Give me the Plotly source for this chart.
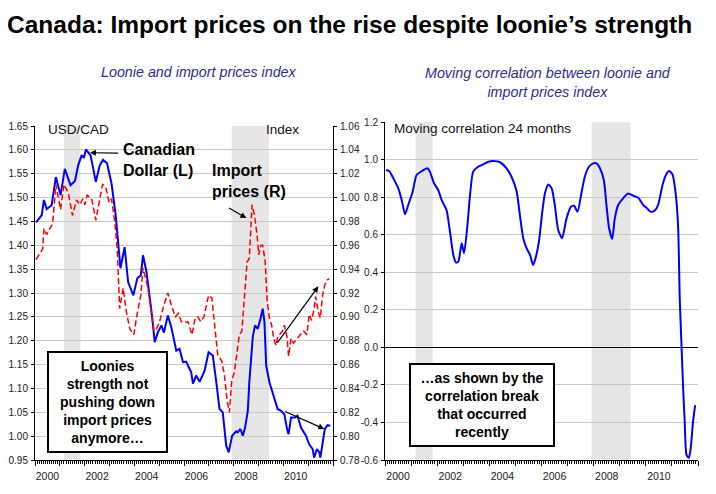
import plotly.graph_objects as go

# ---------------- data ----------------
cad_t = [2000.04, 2000.27, 2000.36, 2000.47, 2000.67, 2000.84, 2001.03, 2001.20, 2001.43, 2001.61,
         2001.74, 2001.88, 2001.97, 2002.05, 2002.24, 2002.45, 2002.61, 2002.74, 2002.90, 2003.08,
         2003.25, 2003.35, 2003.44, 2003.61, 2003.75, 2003.96, 2004.12, 2004.26, 2004.35, 2004.49,
         2004.62, 2004.71, 2004.82, 2004.95, 2005.09, 2005.19, 2005.35, 2005.49, 2005.69, 2005.82,
         2005.96, 2006.09, 2006.16, 2006.29, 2006.36, 2006.49, 2006.63, 2006.83, 2006.99, 2007.16,
         2007.30, 2007.43, 2007.56, 2007.70, 2007.80, 2007.94, 2008.10, 2008.16, 2008.27, 2008.37,
         2008.46, 2008.57, 2008.63, 2008.77, 2008.86, 2008.97, 2009.08, 2009.17, 2009.24, 2009.31,
         2009.44, 2009.57, 2009.64, 2009.77, 2009.91, 2010.04, 2010.15, 2010.21, 2010.31, 2010.47,
         2010.57, 2010.71, 2010.91, 2011.04, 2011.18, 2011.24, 2011.35, 2011.45, 2011.49, 2011.58,
         2011.67, 2011.78, 2011.89]
cad_v = [1.448, 1.463, 1.495, 1.476, 1.484, 1.543, 1.505, 1.560, 1.526, 1.535,
         1.568, 1.589, 1.583, 1.601, 1.588, 1.533, 1.568, 1.579, 1.572, 1.530,
         1.463, 1.394, 1.352, 1.396, 1.323, 1.295, 1.331, 1.337, 1.379, 1.344,
         1.295, 1.253, 1.197, 1.218, 1.232, 1.217, 1.253, 1.228, 1.179, 1.183,
         1.155, 1.156, 1.148, 1.134, 1.110, 1.127, 1.114, 1.137, 1.176, 1.169,
         1.113, 1.057, 1.050, 0.980, 0.966, 1.001, 1.010, 1.008, 1.015, 1.001,
         1.018, 1.053, 1.113, 1.208, 1.232, 1.225, 1.246, 1.267, 1.239, 1.148,
         1.113, 1.092, 1.078, 1.057, 1.053, 1.046, 1.015, 1.004, 1.039, 1.039,
         1.043, 1.018, 1.001, 0.983, 0.973, 0.955, 0.973, 0.966, 0.955, 0.987,
         1.015, 1.023, 1.022]

imp_t = [2000.04, 2000.17, 2000.31, 2000.36, 2000.47, 2000.57, 2000.71, 2000.84, 2001.03, 2001.16,
         2001.34, 2001.51, 2001.67, 2001.81, 2001.92, 2002.01, 2002.10, 2002.28, 2002.45, 2002.61,
         2002.72, 2002.85, 2002.98, 2003.08, 2003.21, 2003.31, 2003.41, 2003.55, 2003.68, 2003.82,
         2003.98, 2004.11, 2004.26, 2004.35, 2004.45, 2004.55, 2004.66, 2004.79, 2004.89, 2005.02,
         2005.15, 2005.25, 2005.35, 2005.49, 2005.65, 2005.78, 2005.89, 2006.02, 2006.16, 2006.32,
         2006.45, 2006.56, 2006.67, 2006.80, 2006.99, 2007.12, 2007.23, 2007.36, 2007.52, 2007.63,
         2007.74, 2007.83, 2007.92, 2008.03, 2008.16, 2008.23, 2008.33, 2008.43, 2008.54, 2008.63,
         2008.74, 2008.84, 2008.94, 2009.01, 2009.10, 2009.17, 2009.27, 2009.35, 2009.44, 2009.53,
         2009.61, 2009.71, 2009.77, 2009.88, 2009.97, 2010.04, 2010.15, 2010.21, 2010.31, 2010.41,
         2010.55, 2010.68, 2010.82, 2010.95, 2011.04, 2011.14, 2011.24, 2011.30, 2011.41, 2011.49,
         2011.58, 2011.67, 2011.78, 2011.85]
imp_v = [0.948, 0.952, 0.957, 0.974, 0.969, 0.973, 0.978, 1.011, 0.990, 1.011,
         1.004, 0.985, 0.998, 0.994, 0.999, 0.994, 1.002, 0.999, 0.981, 0.999,
         1.011, 1.009, 0.996, 0.999, 0.980, 0.957, 0.907, 0.924, 0.904, 0.890,
         0.885, 0.902, 0.918, 0.941, 0.932, 0.924, 0.907, 0.888, 0.890, 0.896,
         0.907, 0.913, 0.920, 0.910, 0.900, 0.903, 0.896, 0.895, 0.896, 0.885,
         0.899, 0.900, 0.896, 0.900, 0.918, 0.916, 0.896, 0.868, 0.863, 0.851,
         0.829, 0.820, 0.846, 0.854, 0.874, 0.885, 0.888, 0.913, 0.946, 0.949,
         0.994, 0.985, 0.969, 0.952, 0.960, 0.960, 0.946, 0.913, 0.899, 0.893,
         0.882, 0.876, 0.883, 0.886, 0.888, 0.893, 0.883, 0.867, 0.882, 0.878,
         0.882, 0.885, 0.888, 0.885, 0.902, 0.897, 0.907, 0.917, 0.904, 0.899,
         0.918, 0.927, 0.931, 0.932]

corr_t = [2000.04, 2000.16, 2000.32, 2000.51, 2000.64, 2000.77, 2000.89, 2001.06, 2001.21, 2001.41,
          2001.62, 2001.72, 2001.88, 2002.04, 2002.17, 2002.36, 2002.49, 2002.62, 2002.72, 2002.81,
          2002.94, 2003.03, 2003.15, 2003.26, 2003.38, 2003.57, 2003.77, 2003.96, 2004.15, 2004.41,
          2004.66, 2004.85, 2005.05, 2005.17, 2005.30, 2005.43, 2005.56, 2005.68, 2005.77, 2005.90,
          2006.03, 2006.13, 2006.26, 2006.39, 2006.51, 2006.64, 2006.79, 2006.96, 2007.13, 2007.25,
          2007.38, 2007.54, 2007.66, 2007.82, 2007.98, 2008.11, 2008.24, 2008.39, 2008.49, 2008.59,
          2008.71, 2008.81, 2008.94, 2009.13, 2009.32, 2009.51, 2009.71, 2009.90, 2010.05, 2010.18,
          2010.34, 2010.47, 2010.64, 2010.77, 2010.89, 2011.02, 2011.15, 2011.24, 2011.30, 2011.37,
          2011.43, 2011.49, 2011.56, 2011.65, 2011.72, 2011.81, 2011.89]
corr_v = [0.946, 0.940, 0.901, 0.848, 0.786, 0.710, 0.759, 0.830, 0.919, 0.940,
          0.955, 0.937, 0.875, 0.839, 0.786, 0.732, 0.617, 0.493, 0.452, 0.457,
          0.555, 0.502, 0.635, 0.812, 0.937, 0.963, 0.976, 0.990, 0.994, 0.987,
          0.955, 0.910, 0.830, 0.706, 0.582, 0.528, 0.493, 0.439, 0.475, 0.563,
          0.723, 0.821, 0.869, 0.848, 0.759, 0.626, 0.582, 0.688, 0.750, 0.755,
          0.723, 0.830, 0.910, 0.963, 0.981, 0.981, 0.955, 0.892, 0.759, 0.635,
          0.578, 0.688, 0.759, 0.795, 0.821, 0.809, 0.798, 0.759, 0.741, 0.723,
          0.729, 0.759, 0.866, 0.919, 0.940, 0.923, 0.812, 0.635, 0.262, 0.004,
          -0.218, -0.396, -0.573, -0.588, -0.538, -0.396, -0.307]

recessions = [(2001.17, 2001.83), (2007.92, 2009.42)]

year_labels = ["2000", "2002", "2004", "2006", "2008", "2010"]
left_ticks = [0.95, 1.00, 1.05, 1.10, 1.15, 1.20, 1.25, 1.30, 1.35, 1.40, 1.45, 1.50, 1.55, 1.60, 1.65]
right_ticks = [0.78, 0.80, 0.82, 0.84, 0.86, 0.88, 0.90, 0.92, 0.94, 0.96, 0.98, 1.00, 1.02, 1.04, 1.06]
corr_ticks = [-0.6, -0.4, -0.2, 0.0, 0.2, 0.4, 0.6, 0.8, 1.0, 1.2]
corr_ticktext = ["-0.6", "-0.4", "-0.2", "0.0", "0.2", "0.4", "0.6", "0.8", "1.0", "1.2"]

# ---------------- geometry ----------------
# the page body has an 8px default margin, so the figure is drawn 8px in from the
# window's top-left corner; all positions below are given in window pixels.
OFF = 8
W, H = 716 - OFF, 494 - 2 * OFF


def px(x):
    return (x - OFF) / W


def py(y):
    return 1 - (y - OFF) / H


TICKFONT = dict(family="Liberation Sans, Arial", size=10, color="#222222")
BASE = "Liberation Sans, Arial, sans-serif"

fig = go.Figure()
fig.add_trace(go.Scatter(x=cad_t, y=cad_v, xaxis="x", yaxis="y", mode="lines",
                         line=dict(color="#0000FF", width=2), hoverinfo="skip"))
fig.add_trace(go.Scatter(x=imp_t, y=imp_v, xaxis="x", yaxis="y2", mode="lines",
                         line=dict(color="#FF0000", width=1.5, dash="6px,3px"), hoverinfo="skip"))
fig.add_trace(go.Scatter(x=corr_t, y=corr_v, xaxis="x2", yaxis="y3", mode="lines",
                         line=dict(color="#0000FF", width=2, shape="spline", smoothing=0.6),
                         hoverinfo="skip"))
# empty helper traces so the year-label axes get drawn
fig.add_trace(go.Scatter(x=[None], y=[None], xaxis="x3", yaxis="y", hoverinfo="skip"))
fig.add_trace(go.Scatter(x=[None], y=[None], xaxis="x4", yaxis="y3", hoverinfo="skip"))

y_dom_l = [py(460), py(126)]
y_dom_r = [py(460), py(122.3)]
x_dom_l = [px(35), px(333)]
x_dom_r = [px(385), px(698)]

years = list(range(2000, 2013))
months = [2000 + k / 12 for k in range(12 * 12 + 1)]
label_pos = [int(y) + 0.5 for y in year_labels]


def base_x(domain, anchor):
    return dict(domain=domain, anchor=anchor, range=[2000, 2012], showgrid=False, zeroline=False,
                showline=True, linecolor="black", linewidth=1, automargin=False,
                tickmode="array", tickvals=years, ticks="outside", ticklen=5, tickcolor="black",
                showticklabels=False,
                minor=dict(tickmode="array", tickvals=months, ticks="outside", ticklen=2.5,
                           tickcolor="black", showgrid=False))


def label_x(over, anchor):
    return dict(overlaying=over, anchor=anchor, range=[2000, 2012], showgrid=False, zeroline=False,
                showline=False, tickmode="array", tickvals=label_pos, ticktext=year_labels,
                automargin=False, ticks="", tickfont=dict(TICKFONT, size=10.5), ticklabelstandoff=8)


fig.update_layout(
    width=W, height=H, margin=dict(l=0, r=0, t=0, b=0, autoexpand=False),
    paper_bgcolor="white", plot_bgcolor="white", showlegend=False,
    xaxis=base_x(x_dom_l, "y"),
    xaxis2=base_x(x_dom_r, "y3"),
    xaxis3=label_x("x", "y"),
    xaxis4=label_x("x2", "y3"),
    yaxis=dict(domain=y_dom_l, anchor="x", range=[0.95, 1.65], tickmode="array", automargin=False,
               tickvals=left_ticks, tickformat=".2f", showgrid=True, gridcolor="#C8C8C8",
               gridwidth=1, zeroline=False, showline=True, linecolor="black", linewidth=1,
               ticks="outside", ticklen=3, tickcolor="black", tickfont=TICKFONT,
               ticklabelstandoff=1),
    yaxis2=dict(overlaying="y", side="right", anchor="x", range=[0.78, 1.06], tickmode="array",
                automargin=False,
                tickvals=right_ticks, tickformat=".2f", showgrid=False, zeroline=False,
                showline=True, linecolor="black", linewidth=1, ticks="outside", ticklen=3,
                tickcolor="black", tickfont=TICKFONT, ticklabelstandoff=1),
    yaxis3=dict(domain=y_dom_r, anchor="x2", range=[-0.6, 1.2], tickmode="array", automargin=False,
                tickvals=corr_ticks, ticktext=corr_ticktext, showgrid=True, gridcolor="#C8C8C8",
                gridwidth=1, zeroline=True, zerolinecolor="black", zerolinewidth=1.3,
                showline=True, linecolor="black", linewidth=1, ticks="outside", ticklen=3,
                tickcolor="black", tickfont=TICKFONT, ticklabelstandoff=1),
)

# recession shading
for x0, x1 in recessions:
    fig.add_shape(type="rect", xref="x", yref="y domain", x0=x0, x1=x1, y0=0, y1=1,
                  fillcolor="#E6E6E6", line=dict(width=0), layer="below")
    fig.add_shape(type="rect", xref="x2", yref="y3 domain", x0=x0, x1=x1, y0=0, y1=1,
                  fillcolor="#E6E6E6", line=dict(width=0), layer="below")

annots = []
# main title (anchored at the top of the figure so it is not clipped)
annots.append(dict(text="Canada: Import prices on the rise despite loonie\u2019s strength",
                   x=px(5), y=py(8.5), xref="paper", yref="paper", xanchor="left", yanchor="top",
                   showarrow=False, font=dict(family=BASE, size=24.5, color="black", weight="bold")))
# subtitles
SUB = dict(family=BASE, size=14.3, color="#2E2E8E", style="italic")
annots.append(dict(text="Loonie and import prices index", x=px(199), y=py(72), xref="paper",
                   yref="paper", xanchor="center", yanchor="middle", showarrow=False, font=SUB))
annots.append(dict(text="Moving correlation between loonie and<br>import prices index",
                   x=px(548), y=py(82), xref="paper", yref="paper", xanchor="center",
                   yanchor="middle", showarrow=False, font=SUB))
# inner labels
LBL = dict(family=BASE, size=13.5, color="#111111")
annots.append(dict(text="USD/CAD", x=px(78), y=py(130), xref="paper", yref="paper",
                   xanchor="center", yanchor="middle", showarrow=False, font=LBL))
annots.append(dict(text="Index", x=px(282), y=py(130), xref="paper", yref="paper",
                   xanchor="center", yanchor="middle", showarrow=False, font=LBL))
annots.append(dict(text="Moving correlation 24 months", x=px(392), y=py(128), xref="paper",
                   yref="paper", xanchor="left", yanchor="middle", showarrow=False, font=LBL))
BOLD = dict(family=BASE, size=16, color="black", weight="bold")
annots.append(dict(text="Canadian<br>Dollar (L)", x=px(121), y=py(160), xref="paper", yref="paper",
                   xanchor="left", yanchor="middle", align="left", showarrow=False, font=BOLD))
annots.append(dict(text="Import<br>prices (R)", x=px(210), y=py(181), xref="paper", yref="paper",
                   xanchor="left", yanchor="middle", align="left", showarrow=False, font=BOLD))
# boxes
BOX = dict(family=BASE, size=14, color="black", weight="bold")
annots.append(dict(text="Loonies<br>strength not<br>pushing down<br>import prices<br>anymore\u2026",
                   x=px(107.5), y=py(402), xref="paper", yref="paper", xanchor="center",
                   yanchor="middle", showarrow=False, font=BOX, align="center",
                   bgcolor="white", bordercolor="black", borderwidth=2, borderpad=1,
                   width=115, height=96))
annots.append(dict(text="\u2026as shown by the<br>correlation break<br>that occurred<br>recently",
                   x=px(482), y=py(405), xref="paper", yref="paper", xanchor="center",
                   yanchor="middle", showarrow=False, font=BOX, align="center",
                   bgcolor="white", bordercolor="black", borderwidth=2, borderpad=1,
                   width=140, height=78))
# arrows (head -> x,y ; tail -> ax,ay), in left-panel data coordinates
ARW = dict(xref="x", yref="y", axref="x", ayref="y", text="", showarrow=True, arrowhead=2,
           arrowsize=1, arrowwidth=1.2, arrowcolor="black")
annots.append(dict(ARW, x=2002.21, y=1.594, ax=2003.41, ay=1.593))
annots.append(dict(ARW, x=2008.51, y=1.457, ax=2007.75, ay=1.480))
annots.append(dict(ARW, x=2011.41, y=1.314, ax=2009.72, ay=1.193))
annots.append(dict(ARW, x=2011.65, y=1.015, ax=2010.01, ay=1.053))

fig.update_layout(annotations=annots)
fig.write_html("out.html")
